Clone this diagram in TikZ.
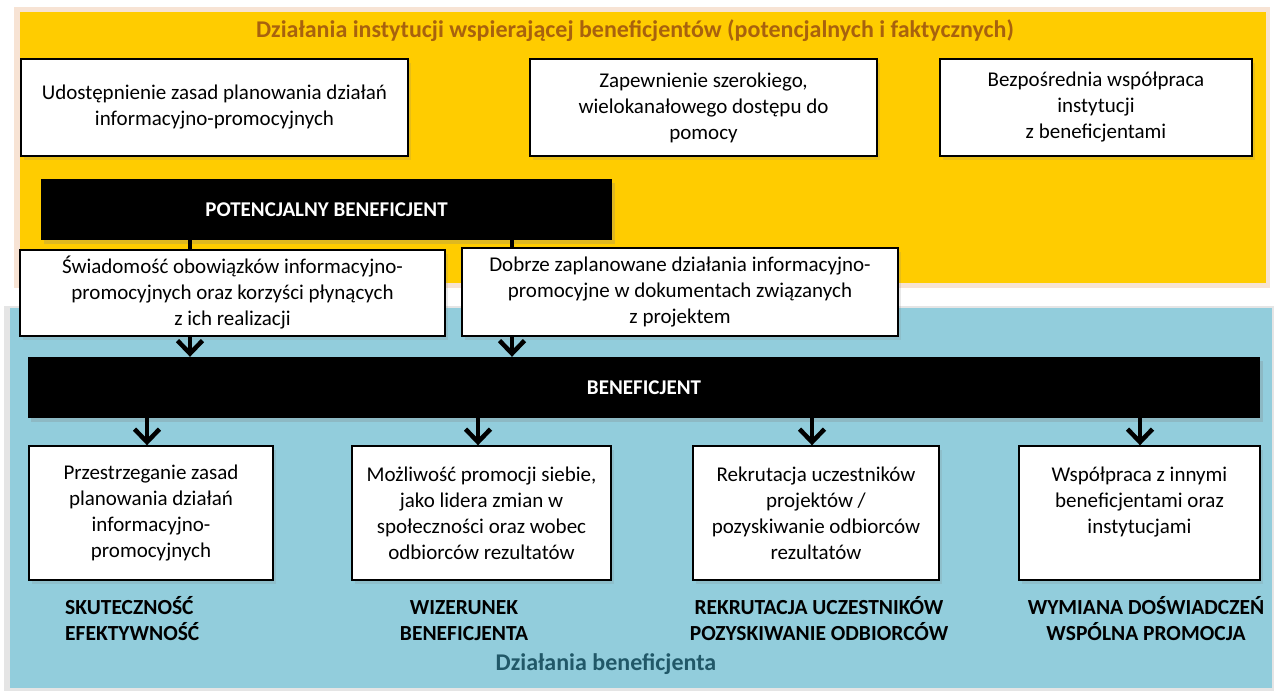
\documentclass[tikz,border=0pt]{standalone}
\usepackage{fontspec}
\setmainfont{Carlito}
\usepackage{tikz}
\usetikzlibrary{arrows.meta}
\usetikzlibrary{shadows}
\usetikzlibrary{positioning}

\definecolor{panelyellow}{HTML}{FFCC00}
\definecolor{panelblue}{HTML}{92CDDC}
\definecolor{titlebrown}{HTML}{A8620E}
\definecolor{titleteal}{HTML}{215868}
\definecolor{glowsalmon}{HTML}{EFC3A0}

\begin{document}
\begin{tikzpicture}
          [x=1pt, y=-1pt,
           wbox/.style={draw, line width=1.4pt, fill=white, align=center, inner sep=0pt,
                        font=\fontsize{21}{26}\selectfont,
                        drop shadow={shadow xshift=3pt, shadow yshift=-4pt, opacity=0.18}},
           boxtext/.style={align=center, inner sep=0pt, font=\fontsize{21}{26}\selectfont},
           blackbar/.style={fill=black, text=white, inner sep=0pt,
                            font=\bfseries\fontsize{21}{24}\selectfont,
                            drop shadow={shadow xshift=3pt, shadow yshift=-4pt, opacity=0.25}},
           tag/.style={align=center, inner sep=0pt, font=\bfseries\fontsize{21.5}{26}\selectfont},
           link/.style={line width=4.5pt},
           arrow/.style={link, -{Straight Barb[length=13pt, width=25pt, line width=4.5pt]}}]
          \useasboundingbox (0,0) rectangle (1274,691);
          \fill[white] (0,0) rectangle (1274,691);

          \fill[glowsalmon, opacity=0.45] (14,7) rectangle (1270,288);
          \fill[panelyellow] (20,12) rectangle (1266,283);
          \fill[gray, opacity=0.2] (4,306) rectangle (1274,691);
          \fill[panelblue] (10,308) rectangle (1272,688);

          \node (title) [font=\bfseries\fontsize{24}{28}\selectfont, text=titlebrown] at (635,31)
                {Działania instytucji wspierającej beneficjentów (potencjalnych i faktycznych)};
          \node (footer) [font=\bfseries\fontsize{24}{28}\selectfont, text=titleteal] at (606,664)
                {Działania beneficjenta};

          \node (zasady) [wbox, minimum width=387pt, minimum height=97pt] at (214.5,107.5)
                {Udostępnienie zasad planowania działań\\informacyjno-promocyjnych};
          \node (dostep) [wbox, minimum width=347pt, minimum height=97pt] at (703.5,107.5)
                {Zapewnienie szerokiego,\\wielokanałowego dostępu do\\pomocy};
          \node (wspolpraca) [wbox, minimum width=312pt, minimum height=97pt] at (1096,107.5)
                {Bezpośrednia współpraca\\instytucji\\z beneficjentami};

          \node (potbar) [blackbar, minimum width=571pt, minimum height=61pt] at (326.5,209.5)
                {POTENCJALNY BENEFICJENT};

          \node (swiad) [wbox, minimum width=425pt, minimum height=86pt] at (232.5,293)
                {Świadomość obowiązków informacyjno-\\promocyjnych oraz korzyści płynących\\z ich realizacji};
          \node (dobrze) [wbox, minimum width=436pt, minimum height=88pt] at (680,292)
                {Dobrze zaplanowane działania informacyjno-\\promocyjne w dokumentach związanych\\z projektem};

          \node (benbar) [blackbar, minimum width=1232pt, minimum height=61pt] at (644,387.5)
                {BENEFICJENT};

          \node (przestrz) [wbox, minimum width=244pt, minimum height=134pt] at (151,513)
                {Przestrzeganie zasad\\planowania działań\\informacyjno-\\promocyjnych};
          \node (promocja) [wbox, minimum width=259pt, minimum height=134pt] at (481.5,513)
                {Możliwość promocji siebie,\\jako lidera zmian w\\społeczności oraz wobec\\odbiorców rezultatów};
          \node (rekrut) [wbox, minimum width=246pt, minimum height=134pt] at (816,513)
                {Rekrutacja uczestników\\projektów /\\pozyskiwanie odbiorców\\rezultatów};
          \node (innymi) [wbox, minimum width=241pt, minimum height=134pt] at (1139.5,513) {};
          \node (innymitxt) [boxtext, below=21pt of innymi.north]
                {Współpraca z innymi\\beneficjentami oraz\\instytucjami};

          \node (skut) [tag, align=left, anchor=west] at (65,619)
                {SKUTECZNOŚĆ\\EFEKTYWNOŚĆ};
          \node (wizer) [tag] at (464,621)
                {WIZERUNEK\\BENEFICJENTA};
          \node (rekrutag) [tag] at (819,619)
                {REKRUTACJA UCZESTNIKÓW\\POZYSKIWANIE ODBIORCÓW};
          \node (wymiana) [tag] at (1146,619)
                {WYMIANA DOŚWIADCZEŃ\\WSPÓLNA PROMOCJA};

          \coordinate (colA) at (190,0);
          \coordinate (colB) at (512,0);
          \coordinate (colC) at (147,0);
          \coordinate (colD) at (478,0);
          \coordinate (colE) at (812,0);
          \coordinate (colF) at (1140,0);

          \draw[link] (potbar.south -| colA) -- (swiad.north -| colA);
          \draw[link] (potbar.south -| colB) -- (dobrze.north -| colB);

          \draw[arrow] (swiad.south -| colA) -- (benbar.north -| colA);
          \draw[arrow] (dobrze.south -| colB) -- (benbar.north -| colB);

          \draw[arrow] (benbar.south -| colC) -- (przestrz.north -| colC);
          \draw[arrow] (benbar.south -| colD) -- (promocja.north -| colD);
          \draw[arrow] (benbar.south -| colE) -- (rekrut.north -| colE);
          \draw[arrow] (benbar.south -| colF) -- (innymi.north -| colF);

        \end{tikzpicture}
\end{document}
